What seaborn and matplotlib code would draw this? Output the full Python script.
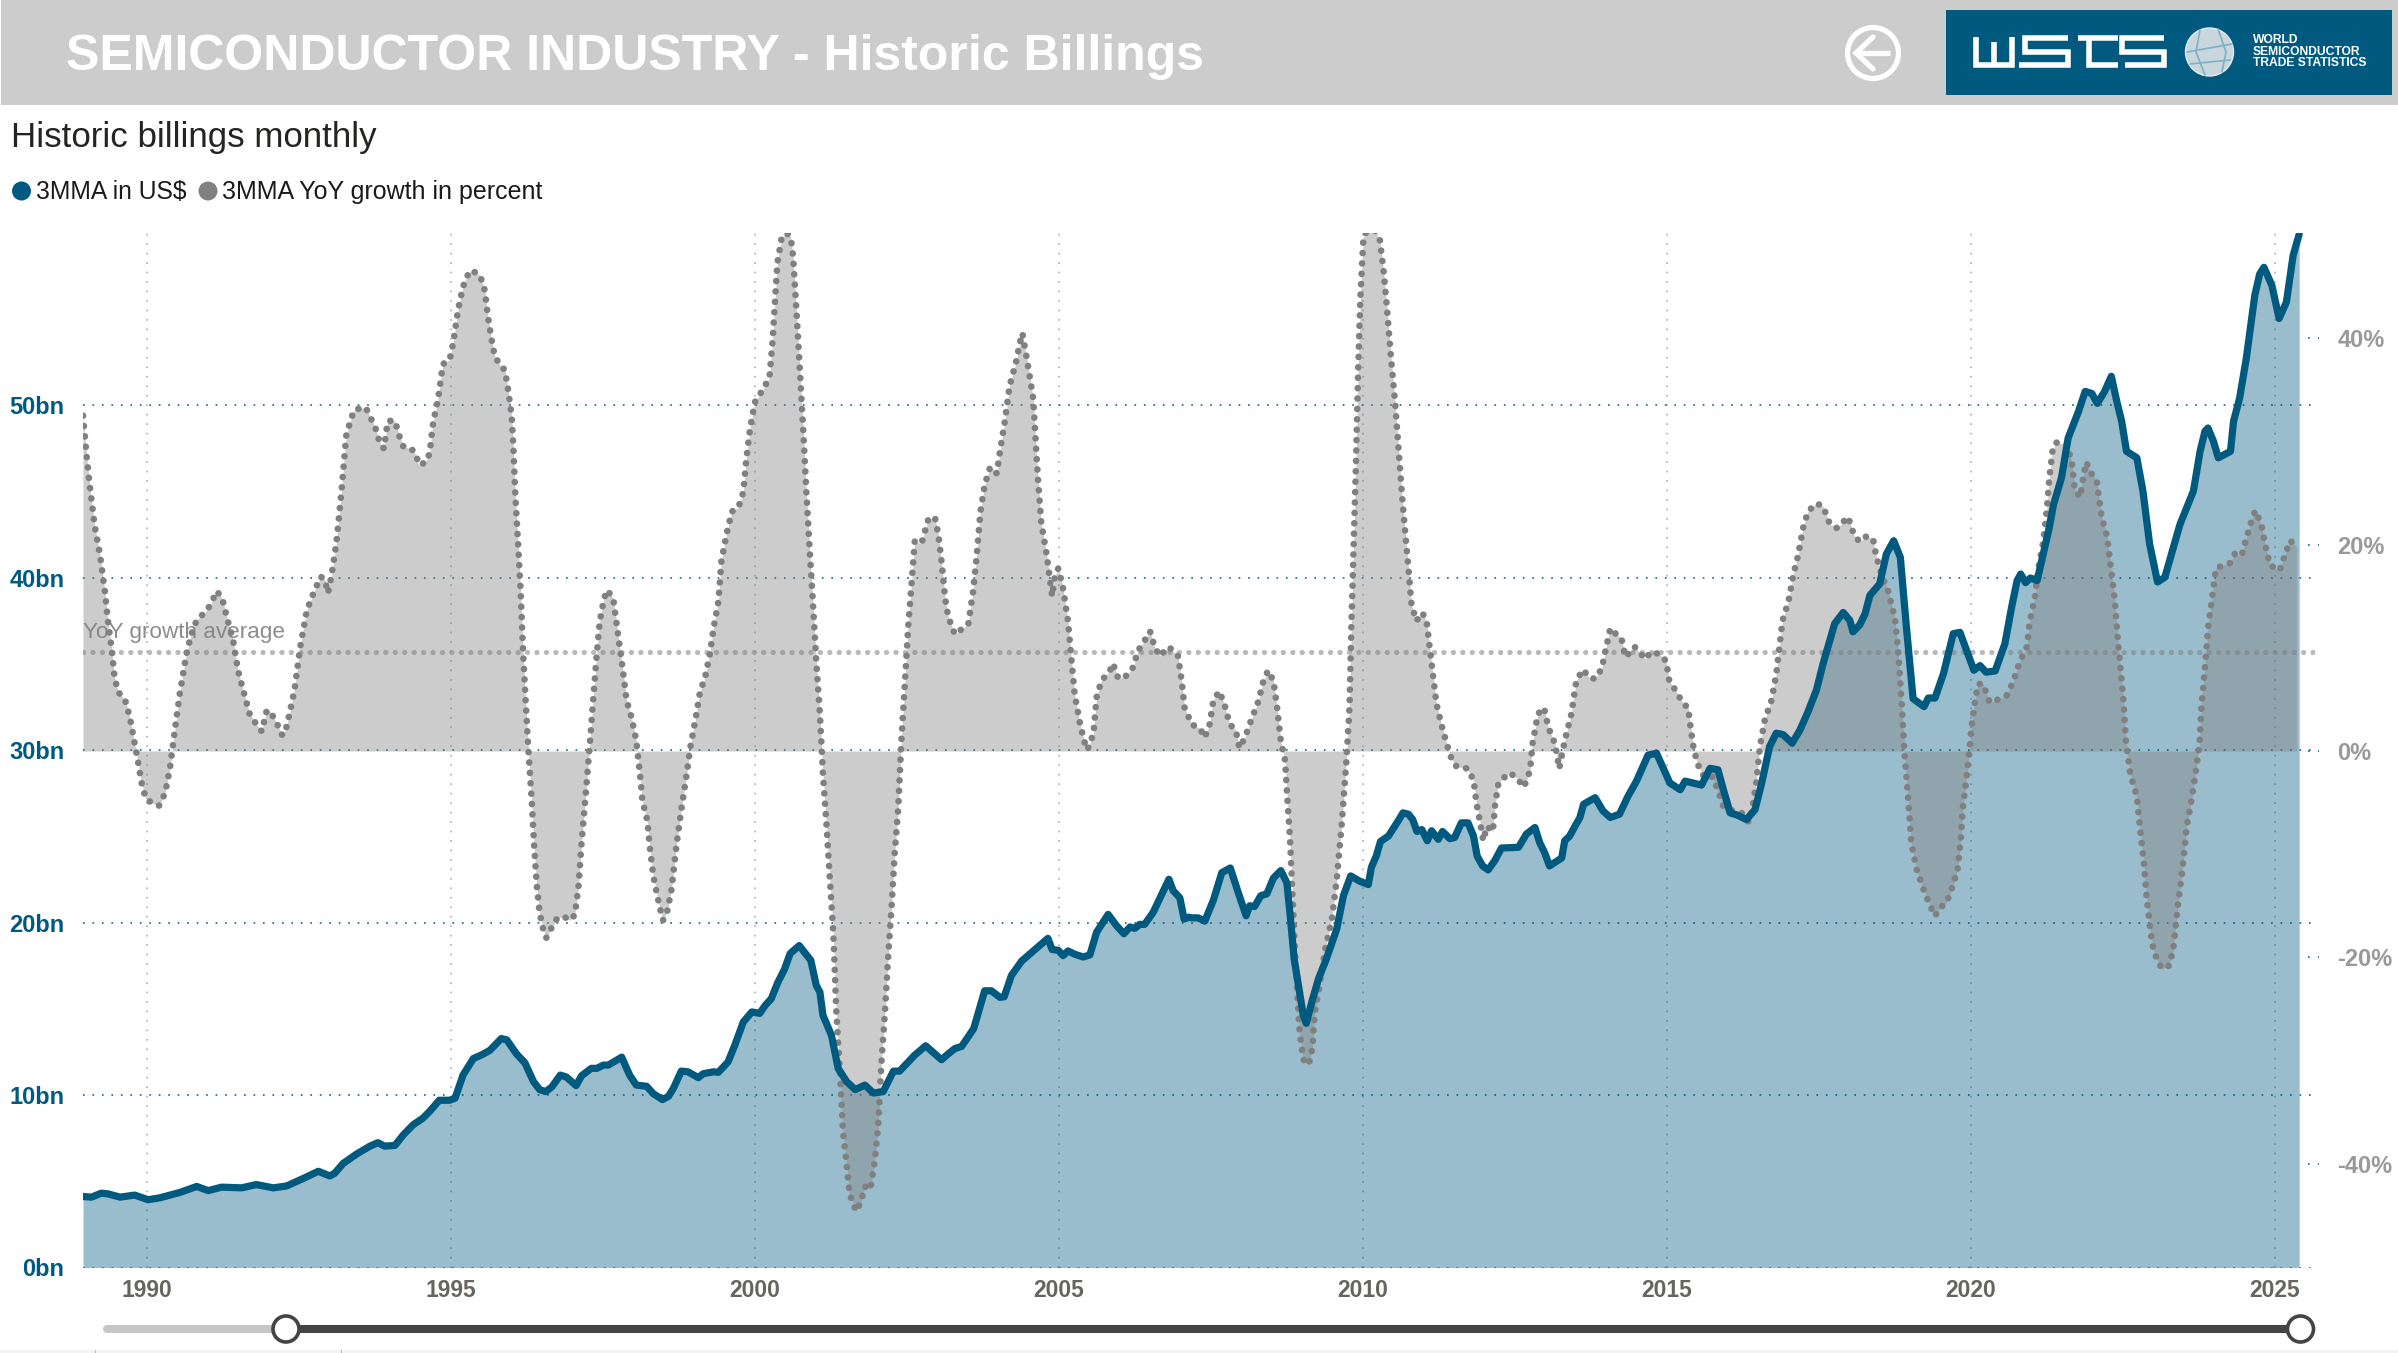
import matplotlib
matplotlib.use("Agg")
import matplotlib.pyplot as plt
from matplotlib.patches import Circle, Rectangle
import pandas as pd
import seaborn as sns

# values (US$ bn, 3 month moving average)
dates_usd = [
    1988.95, 1989.09, 1989.25, 1989.36, 1989.56, 1989.80, 1990.02, 1990.21, 1990.54, 1990.82,
    1991.01, 1991.23, 1991.56, 1991.80, 1992.08, 1992.30, 1992.57, 1992.82, 1993.01, 1993.09,
    1993.23, 1993.45, 1993.67, 1993.80, 1993.91, 1994.08, 1994.22, 1994.38, 1994.54, 1994.65,
    1994.81, 1994.98, 1995.07, 1995.20, 1995.37, 1995.50, 1995.64, 1995.83, 1995.92, 1996.08,
    1996.22, 1996.36, 1996.46, 1996.56, 1996.66, 1996.80, 1996.90, 1997.06, 1997.15, 1997.31,
    1997.40, 1997.51, 1997.59, 1997.81, 1997.94, 1998.05, 1998.22, 1998.33, 1998.48, 1998.58,
    1998.66, 1998.79, 1998.90, 1999.07, 1999.15, 1999.32, 1999.40, 1999.56, 1999.67, 1999.81,
    1999.95, 2000.08, 2000.17, 2000.27, 2000.38, 2000.49, 2000.58, 2000.73, 2000.92, 2001.01,
    2001.07, 2001.12, 2001.26, 2001.37, 2001.51, 2001.65, 2001.81, 2001.95, 2002.11, 2002.28,
    2002.38, 2002.63, 2002.81, 2003.07, 2003.18, 2003.29, 2003.40, 2003.60, 2003.78, 2003.89,
    2004.03, 2004.10, 2004.22, 2004.39, 2004.58, 2004.82, 2004.89, 2004.99, 2005.07, 2005.15,
    2005.26, 2005.40, 2005.51, 2005.62, 2005.81, 2005.95, 2006.07, 2006.17, 2006.25, 2006.33,
    2006.41, 2006.55, 2006.81, 2006.88, 2006.99, 2007.06, 2007.14, 2007.18, 2007.29, 2007.40,
    2007.54, 2007.68, 2007.82, 2007.95, 2008.08, 2008.14, 2008.22, 2008.32, 2008.42, 2008.53,
    2008.65, 2008.75, 2008.80, 2008.87, 2008.94, 2009.02, 2009.07, 2009.16, 2009.27, 2009.40,
    2009.57, 2009.68, 2009.80, 2009.95, 2010.09, 2010.14, 2010.22, 2010.29, 2010.42, 2010.58,
    2010.66, 2010.75, 2010.82, 2010.89, 2010.97, 2011.06, 2011.13, 2011.24, 2011.31, 2011.43,
    2011.51, 2011.62, 2011.73, 2011.82, 2011.88, 2011.97, 2012.06, 2012.17, 2012.28, 2012.56,
    2012.69, 2012.83, 2012.91, 2012.99, 2013.07, 2013.27, 2013.32, 2013.40, 2013.49, 2013.57,
    2013.63, 2013.82, 2013.95, 2014.07, 2014.22, 2014.36, 2014.50, 2014.69, 2014.83, 2015.05,
    2015.22, 2015.30, 2015.57, 2015.71, 2015.84, 2015.93, 2016.04, 2016.15, 2016.31, 2016.45,
    2016.56, 2016.69, 2016.80, 2016.91, 2017.06, 2017.19, 2017.32, 2017.46, 2017.57, 2017.76,
    2017.90, 2018.01, 2018.06, 2018.17, 2018.26, 2018.34, 2018.50, 2018.61, 2018.73, 2018.84,
    2018.94, 2019.05, 2019.23, 2019.30, 2019.41, 2019.55, 2019.71, 2019.82, 2020.05, 2020.15,
    2020.25, 2020.40, 2020.56, 2020.67, 2020.76, 2020.82, 2020.90, 2020.98, 2021.09, 2021.19,
    2021.29, 2021.36, 2021.49, 2021.60, 2021.77, 2021.88, 2021.99, 2022.08, 2022.20, 2022.31,
    2022.40, 2022.48, 2022.56, 2022.73, 2022.83, 2022.94, 2023.07, 2023.19, 2023.30, 2023.44,
    2023.66, 2023.77, 2023.85, 2023.90, 2023.99, 2024.07, 2024.27, 2024.32, 2024.42, 2024.53,
    2024.67, 2024.75, 2024.82, 2024.95, 2025.07, 2025.19, 2025.30, 2025.40,
]
usd_bn = [
    4.12, 4.08, 4.31, 4.27, 4.08, 4.20, 3.93, 4.04, 4.35, 4.70,
    4.46, 4.66, 4.62, 4.81, 4.62, 4.73, 5.16, 5.58, 5.31, 5.47,
    6.04, 6.58, 7.04, 7.24, 7.04, 7.08, 7.70, 8.28, 8.66, 9.05,
    9.70, 9.70, 9.82, 11.16, 12.12, 12.32, 12.59, 13.28, 13.20, 12.39,
    11.86, 10.78, 10.32, 10.20, 10.47, 11.16, 11.05, 10.55, 11.12, 11.55,
    11.55, 11.74, 11.74, 12.20, 11.16, 10.58, 10.51, 10.08, 9.74, 9.93,
    10.39, 11.39, 11.35, 11.01, 11.24, 11.35, 11.32, 11.93, 12.89, 14.24,
    14.82, 14.74, 15.20, 15.59, 16.55, 17.32, 18.21, 18.67, 17.82, 16.36,
    15.97, 14.63, 13.47, 11.55, 10.78, 10.32, 10.58, 10.12, 10.20, 11.39,
    11.39, 12.32, 12.86, 12.05, 12.39, 12.70, 12.82, 13.86, 16.05, 16.05,
    15.67, 15.70, 16.94, 17.78, 18.36, 19.09, 18.44, 18.40, 18.09, 18.36,
    18.17, 18.01, 18.13, 19.44, 20.48, 19.82, 19.36, 19.75, 19.67, 19.90,
    19.90, 20.59, 22.52, 21.86, 21.44, 20.21, 20.32, 20.28, 20.28, 20.09,
    21.29, 22.90, 23.17, 21.75, 20.40, 20.98, 20.94, 21.56, 21.67, 22.59,
    23.02, 22.32, 20.59, 17.90, 16.36, 14.63, 14.16, 15.40, 16.74, 17.90,
    19.63, 21.56, 22.71, 22.40, 22.21, 23.21, 23.86, 24.71, 25.02, 25.90,
    26.37, 26.29, 25.98, 25.29, 25.40, 24.75, 25.33, 24.83, 25.29, 24.87,
    24.94, 25.79, 25.79, 25.02, 23.86, 23.29, 23.06, 23.60, 24.33, 24.37,
    25.14, 25.52, 24.63, 24.06, 23.29, 23.75, 24.75, 25.02, 25.60, 26.10,
    26.87, 27.25, 26.48, 26.10, 26.29, 27.33, 28.21, 29.72, 29.83, 28.10,
    27.71, 28.21, 27.98, 28.95, 28.87, 27.71, 26.37, 26.25, 25.98, 26.56,
    28.10, 30.22, 30.99, 30.91, 30.41, 31.18, 32.22, 33.49, 35.03, 37.34,
    37.99, 37.53, 36.87, 37.26, 37.91, 38.99, 39.65, 41.38, 42.15, 41.19,
    37.14, 32.99, 32.53, 33.03, 33.03, 34.45, 36.76, 36.84, 34.64, 34.91,
    34.53, 34.60, 36.18, 38.30, 39.84, 40.22, 39.72, 39.99, 39.84, 41.38,
    42.92, 44.26, 45.80, 48.11, 49.65, 50.81, 50.69, 50.12, 50.81, 51.69,
    50.23, 49.08, 47.34, 46.96, 45.03, 41.96, 39.76, 40.03, 41.38, 43.11,
    45.03, 47.34, 48.50, 48.69, 47.92, 46.96, 47.34, 49.08, 50.42, 52.73,
    56.39, 57.62, 58.01, 56.97, 55.04, 56.00, 58.70, 59.93,
]

# 3MMA YoY growth in percent
dates_yoy = [
    1988.95, 1989.01, 1989.06, 1989.14, 1989.23, 1989.31, 1989.36, 1989.42, 1989.47, 1989.53,
    1989.64, 1989.72, 1989.80, 1989.86, 1989.91, 1989.98, 1990.10, 1990.20, 1990.30, 1990.38,
    1990.46, 1990.54, 1990.65, 1990.73, 1990.82, 1990.95, 1991.04, 1991.15, 1991.24, 1991.31,
    1991.42, 1991.50, 1991.58, 1991.69, 1991.80, 1991.89, 1991.97, 1992.02, 1992.10, 1992.17,
    1992.23, 1992.29, 1992.35, 1992.43, 1992.52, 1992.63, 1992.74, 1992.86, 1992.93, 1992.98,
    1993.04, 1993.12, 1993.20, 1993.28, 1993.37, 1993.42, 1993.60, 1993.67, 1993.75, 1993.83,
    1993.90, 1993.94, 1993.97, 1994.08, 1994.16, 1994.22, 1994.35, 1994.44, 1994.46, 1994.57,
    1994.65, 1994.71, 1994.79, 1994.87, 1994.98, 1995.04, 1995.12, 1995.20, 1995.29, 1995.34,
    1995.48, 1995.56, 1995.61, 1995.67, 1995.72, 1995.81, 1995.89, 1995.94, 1996.00, 1996.03,
    1996.06, 1996.11, 1996.15, 1996.19, 1996.23, 1996.28, 1996.33, 1996.37, 1996.41, 1996.46,
    1996.52, 1996.57, 1996.66, 1996.74, 1996.85, 1996.95, 1997.04, 1997.10, 1997.15, 1997.22,
    1997.29, 1997.34, 1997.40, 1997.45, 1997.52, 1997.57, 1997.67, 1997.75, 1997.83, 1997.89,
    1997.97, 1998.05, 1998.11, 1998.15, 1998.23, 1998.27, 1998.33, 1998.39, 1998.45, 1998.49,
    1998.56, 1998.63, 1998.71, 1998.79, 1998.88, 1998.94, 1999.03, 1999.10, 1999.18, 1999.26,
    1999.32, 1999.40, 1999.45, 1999.53, 1999.62, 1999.73, 1999.81, 1999.86, 1999.92, 2000.00,
    2000.14, 2000.24, 2000.29, 2000.33, 2000.37, 2000.44, 2000.52, 2000.59, 2000.63, 2000.69,
    2000.74, 2000.80, 2000.85, 2000.90, 2000.96, 2001.01, 2001.07, 2001.12, 2001.18, 2001.23,
    2001.29, 2001.34, 2001.40, 2001.45, 2001.51, 2001.56, 2001.62, 2001.66, 2001.74, 2001.81,
    2001.90, 2001.97, 2002.03, 2002.08, 2002.14, 2002.19, 2002.25, 2002.30, 2002.36, 2002.41,
    2002.47, 2002.52, 2002.58, 2002.63, 2002.74, 2002.85, 2002.96, 2003.02, 2003.07, 2003.13,
    2003.18, 2003.29, 2003.40, 2003.51, 2003.59, 2003.65, 2003.71, 2003.78, 2003.87, 2003.98,
    2004.03, 2004.11, 2004.19, 2004.30, 2004.36, 2004.40, 2004.48, 2004.58, 2004.62, 2004.66,
    2004.71, 2004.80, 2004.85, 2004.89, 2004.93, 2004.99, 2005.06, 2005.15, 2005.21, 2005.26,
    2005.35, 2005.43, 2005.47, 2005.57, 2005.62, 2005.70, 2005.84, 2005.89, 2005.98, 2006.11,
    2006.22, 2006.30, 2006.41, 2006.50, 2006.58, 2006.66, 2006.81, 2006.96, 2007.02, 2007.07,
    2007.15, 2007.18, 2007.32, 2007.40, 2007.48, 2007.54, 2007.64, 2007.73, 2007.81, 2007.91,
    2007.97, 2008.06, 2008.17, 2008.28, 2008.36, 2008.44, 2008.53, 2008.59, 2008.65, 2008.72,
    2008.76, 2008.80, 2008.84, 2008.88, 2008.92, 2008.96, 2009.02, 2009.11, 2009.17, 2009.21,
    2009.29, 2009.38, 2009.49, 2009.57, 2009.65, 2009.73, 2009.78, 2009.81, 2009.85, 2009.89,
    2009.92, 2009.96, 2010.01, 2010.14, 2010.28, 2010.34, 2010.39, 2010.46, 2010.53, 2010.58,
    2010.64, 2010.69, 2010.75, 2010.80, 2010.88, 2010.98, 2011.05, 2011.10, 2011.16, 2011.21,
    2011.29, 2011.38, 2011.46, 2011.54, 2011.72, 2011.82, 2011.87, 2011.93, 2011.98, 2012.04,
    2012.14, 2012.17, 2012.23, 2012.41, 2012.53, 2012.65, 2012.75, 2012.79, 2012.88, 2012.98,
    2013.05, 2013.16, 2013.23, 2013.32, 2013.43, 2013.51, 2013.62, 2013.73, 2013.82, 2013.93,
    2014.00, 2014.07, 2014.17, 2014.25, 2014.32, 2014.47, 2014.65, 2014.73, 2014.88, 2014.99,
    2015.04, 2015.13, 2015.27, 2015.35, 2015.39, 2015.43, 2015.50, 2015.62, 2015.75, 2015.84,
    2015.93, 2016.09, 2016.23, 2016.35, 2016.41, 2016.47, 2016.53, 2016.61, 2016.72, 2016.80,
    2016.85, 2016.90, 2017.00, 2017.08, 2017.16, 2017.24, 2017.32, 2017.46, 2017.57, 2017.68,
    2017.80, 2017.98, 2018.08, 2018.17, 2018.28, 2018.39, 2018.44, 2018.53, 2018.64, 2018.75,
    2018.80, 2018.86, 2018.91, 2018.97, 2019.02, 2019.11, 2019.22, 2019.33, 2019.41, 2019.49,
    2019.60, 2019.70, 2019.78, 2019.83, 2019.87, 2019.93, 2019.97, 2020.01, 2020.07, 2020.12,
    2020.20, 2020.31, 2020.45, 2020.59, 2020.70, 2020.80, 2020.92, 2020.97, 2021.05, 2021.11,
    2021.19, 2021.25, 2021.29, 2021.34, 2021.40, 2021.58, 2021.66, 2021.71, 2021.80, 2021.86,
    2021.90, 2021.97, 2022.07, 2022.15, 2022.24, 2022.31, 2022.37, 2022.41, 2022.45, 2022.51,
    2022.55, 2022.62, 2022.73, 2022.79, 2022.84, 2022.89, 2022.95, 2023.00, 2023.08, 2023.15,
    2023.26, 2023.33, 2023.41, 2023.48, 2023.55, 2023.61, 2023.68, 2023.76, 2023.79, 2023.85,
    2023.90, 2023.96, 2024.03, 2024.15, 2024.26, 2024.34, 2024.45, 2024.53, 2024.62, 2024.68,
    2024.78, 2024.84, 2024.92, 2025.08, 2025.17, 2025.25, 2025.36,
]
yoy_pct = [
    32.5, 28.6, 25.8, 21.9, 19.0, 15.5, 12.6, 10.0, 7.1, 5.7,
    5.0, 3.3, 0.7, -1.2, -3.0, -4.6, -5.1, -5.3, -4.1, -1.7,
    2.0, 5.5, 9.4, 11.3, 12.7, 13.4, 14.1, 15.5, 14.8, 13.1,
    10.7, 7.8, 6.0, 3.6, 2.6, 1.9, 3.9, 3.9, 3.1, 2.3,
    1.5, 2.2, 3.7, 6.0, 10.0, 13.6, 15.3, 16.9, 16.6, 15.3,
    17.1, 20.3, 25.1, 30.6, 32.4, 33.1, 33.3, 32.4, 31.5, 29.9,
    29.3, 31.1, 32.0, 32.0, 30.4, 29.5, 29.3, 28.6, 27.8, 27.9,
    28.8, 31.9, 34.1, 37.5, 37.9, 39.6, 42.8, 45.0, 46.3, 46.6,
    46.1, 44.6, 42.1, 39.9, 38.3, 37.4, 36.9, 35.1, 32.5, 29.3,
    24.8, 19.7, 15.2, 9.4, 4.9, -0.3, -4.8, -9.2, -12.8, -15.7,
    -17.3, -18.1, -17.1, -16.3, -16.0, -16.4, -15.9, -13.1, -8.9, -4.1,
    1.0, 4.9, 9.4, 12.6, 14.8, 15.6, 14.8, 11.3, 7.8, 4.9,
    3.3, 1.0, -2.2, -4.8, -6.7, -9.2, -12.1, -13.9, -15.5, -16.4,
    -15.5, -13.4, -9.2, -5.7, -2.2, 0.4, 3.3, 5.8, 7.1, 9.4,
    11.9, 14.5, 18.4, 20.9, 23.2, 23.6, 25.1, 28.3, 31.2, 33.8,
    35.1, 36.2, 39.6, 43.4, 47.3, 49.7, 50.2, 49.8, 47.9, 42.1,
    37.0, 30.6, 24.8, 19.7, 13.9, 8.7, 3.6, -2.2, -7.3, -12.1,
    -17.6, -25.3, -31.1, -36.9, -40.1, -43.0, -43.8, -44.6, -43.8, -42.2,
    -42.5, -39.8, -36.2, -30.4, -25.3, -20.2, -15.0, -9.9, -5.4, 1.0,
    6.8, 11.9, 16.4, 20.3, 20.1, 22.4, 22.7, 20.9, 18.4, 14.8,
    13.0, 11.3, 11.8, 12.3, 15.5, 19.0, 23.2, 25.8, 27.5, 26.9,
    29.0, 31.9, 35.4, 37.8, 39.6, 40.5, 37.8, 34.1, 29.9, 26.1,
    22.2, 19.0, 16.8, 15.0, 16.8, 17.7, 16.1, 12.6, 8.7, 5.5,
    2.6, 0.7, 0.1, 1.7, 5.2, 6.8, 7.8, 8.5, 7.0, 7.3,
    8.1, 9.7, 10.7, 11.6, 10.0, 9.2, 10.1, 9.2, 6.8, 4.1,
    3.1, 2.6, 2.2, 1.3, 2.6, 4.9, 5.8, 4.4, 2.6, 2.0,
    0.3, 1.3, 3.1, 4.8, 6.7, 7.8, 6.8, 4.2, 1.0, -0.9,
    -4.8, -8.3, -13.7, -18.9, -23.4, -27.2, -29.9, -30.4, -28.8, -25.3,
    -22.7, -19.2, -16.3, -12.5, -7.3, -0.9, 4.2, 11.9, 20.3, 28.6,
    36.4, 44.1, 49.8, 51.2, 49.5, 46.6, 43.4, 38.3, 33.8, 29.9,
    25.1, 21.6, 17.7, 14.2, 12.6, 13.4, 12.5, 10.0, 7.1, 4.6,
    2.6, 0.7, -0.8, -1.5, -1.7, -2.8, -5.1, -7.0, -8.7, -7.3,
    -7.8, -5.4, -3.1, -2.1, -2.6, -3.5, -1.9, 0.7, 3.6, 4.2,
    2.3, 0.7, -1.7, 1.0, 3.6, 6.8, 7.9, 7.1, 7.0, 8.0,
    10.0, 11.9, 11.3, 11.0, 9.1, 10.1, 8.9, 9.6, 9.4, 8.7,
    6.8, 6.0, 4.6, 4.2, 2.3, 0.6, -1.2, -2.6, -2.5, -3.8,
    -5.4, -5.8, -6.0, -6.9, -5.4, -3.1, 0.4, 3.0, 4.9, 7.5,
    10.0, 12.6, 14.5, 17.1, 19.0, 21.6, 23.2, 24.0, 23.7, 22.0,
    21.6, 22.7, 20.9, 20.3, 20.8, 20.6, 19.0, 17.1, 15.5, 12.9,
    10.0, 4.9, -0.3, -4.8, -8.9, -11.5, -13.4, -15.0, -16.0, -15.2,
    -14.7, -13.1, -11.5, -8.9, -5.4, -2.5, -0.3, 2.3, 4.9, 6.5,
    6.5, 4.7, 5.0, 5.4, 6.8, 8.6, 10.1, 12.6, 14.8, 17.7,
    20.3, 23.5, 26.4, 29.0, 29.9, 29.7, 28.0, 25.3, 24.6, 27.0,
    28.0, 27.0, 26.2, 22.7, 20.8, 17.4, 14.5, 11.3, 8.7, 4.9,
    1.0, -2.2, -4.4, -8.0, -10.5, -14.1, -17.3, -19.2, -20.5, -21.1,
    -20.8, -19.2, -14.7, -11.5, -7.3, -5.4, -2.8, 0.7, 4.2, 8.1,
    11.9, 14.5, 17.7, 18.0, 18.2, 19.1, 18.9, 20.6, 22.4, 23.3,
    21.9, 20.0, 18.0, 17.5, 19.1, 20.4, 19.8,
]
yoy_average = 9.6

year_ticks = [1990, 1995, 2000, 2005, 2010, 2015, 2020, 2025]
usd_ticks = [0, 10, 20, 30, 40, 50]
usd_labels = ["0bn", "10bn", "20bn", "30bn", "40bn", "50bn"]
pct_ticks = [-40, -20, 0, 20, 40]
pct_labels = ["-40%", "-20%", "0%", "20%", "40%"]

df_usd = pd.DataFrame({"date": dates_usd, "usd": usd_bn})
df_yoy = pd.DataFrame({"date": dates_yoy, "yoy": yoy_pct})

BLUE = "#005a80"
GREY = "#808080"
W, H = 2398, 1353

sns.set_theme(style="white")
plt.rcParams["font.family"] = ["Liberation Sans", "DejaVu Sans"]

fig = plt.figure(figsize=(W / 100, H / 100), dpi=100, facecolor="white")
rect = [83 / W, 1 - 1267.5 / H, (2315 - 83) / W, (1267.5 - 233) / H]

# left axis: billings area and grid
ax = fig.add_axes(rect, zorder=1)
ax.fill_between(df_usd["date"], df_usd["usd"], 0, color=BLUE, alpha=0.4, linewidth=0)
ax.set_xlim(1988.95, 2025.66)
ax.set_ylim(0, 60)
ax.set_xticks(year_ticks)
ax.set_xticklabels(year_ticks, fontsize=16.5, fontweight="bold", color="#686460")
ax.set_yticks(usd_ticks)
ax.set_yticklabels(usd_labels, fontsize=17, fontweight="bold", color=BLUE)
ax.tick_params(axis="x", length=0, pad=8.5)
ax.tick_params(axis="y", length=0, pad=13.5)
ax.yaxis.grid(True, linestyle=(0, (1.1, 5.1)), linewidth=1.1, color=BLUE)
ax.xaxis.grid(True, linestyle=(0, (1.1, 5.1)), linewidth=1.1, color="#a8a8a8")
ax.set_axisbelow(True)
sns.despine(ax=ax, left=True, bottom=True)

# right axis: growth, grey area and dots
ax2 = ax.twinx()
ax2.set_zorder(2)
ax2.fill_between(df_yoy["date"], df_yoy["yoy"], 0, color=GREY, alpha=0.4, linewidth=0)
sns.lineplot(data=df_yoy, x="date", y="yoy", ax=ax2, color=GREY, linewidth=4.8,
             linestyle=(0, (0.01, 1.55)), dash_capstyle="round", estimator=None, sort=False)
ax2.axhline(yoy_average, color=GREY, alpha=0.55, linewidth=3.8,
            linestyle=(0, (0.01, 1.78)), dash_capstyle="round")
ax2.text(1988.95, yoy_average + 1.9, "YoY growth average", fontsize=16.2, color=GREY,
         alpha=0.9, ha="left", va="center")
ax2.set_ylim(-50.05, 50.2)
ax2.set_yticks(pct_ticks)
ax2.set_yticklabels(pct_labels, fontsize=17, fontweight="bold", color="#999999")
ax2.tick_params(axis="y", length=0, pad=16)
ax2.set_xlabel("")
ax2.set_ylabel("")
for t in pct_ticks:
    ax2.plot([0.9969, 1.0018], [t, t], transform=ax2.get_yaxis_transform(), clip_on=False,
             color=BLUE, linewidth=1.1, linestyle=(0, (1.1, 5.4)))
sns.despine(ax=ax2, left=True, bottom=True, right=True)

# billings line goes on top of everything
ax3 = ax.twinx()
ax3.set_zorder(3)
sns.lineplot(data=df_usd, x="date", y="usd", ax=ax3, color=BLUE, linewidth=5.2,
             estimator=None, sort=False, solid_joinstyle="round")
ax3.set_ylim(0, 60)
ax3.set_yticks([])
ax3.set_xlabel("")
ax3.set_ylabel("")
ax.set_xlabel("")
sns.despine(ax=ax3, left=True, bottom=True, right=True)

# page furniture in pixel coordinates
ui = fig.add_axes([0, 0, 1, 1], zorder=4)
ui.set_xlim(0, W)
ui.set_ylim(H, 0)
ui.axis("off")
ui.patch.set_alpha(0)

ui.add_patch(Rectangle((1, 0), W - 1, 105, color="#cccccc", linewidth=0))
ui.text(66, 57, "SEMICONDUCTOR INDUSTRY - Historic Billings", fontsize=36,
        fontweight="bold", color="white", ha="left", va="center")
ui.text(11, 137, "Historic billings monthly", fontsize=25.1, color="#252423", ha="left", va="center")

# legend
ui.add_patch(Circle((21.5, 191), 9.5, color=BLUE, linewidth=0))
ui.text(35.5, 192, "3MMA in US$", fontsize=17.7, color="#1a1a1a", ha="left", va="center")
ui.add_patch(Circle((208, 191), 9.5, color=GREY, linewidth=0))
ui.text(222, 192, "3MMA YoY growth in percent", fontsize=18, color="#1a1a1a", ha="left", va="center")

# back arrow
ui.add_patch(Circle((1873, 53), 25.5, facecolor="none", edgecolor="white", linewidth=3.8))
ui.plot([1890, 1856], [53, 53], color="white", linewidth=3.8, solid_capstyle="butt")
ui.plot([1873, 1856, 1873], [37, 53, 69], color="white", linewidth=3.8, solid_joinstyle="miter")

# WSTS logo
ui.add_patch(Rectangle((1946, 10), 446, 85, color=BLUE, linewidth=0))
logo_paths = [
    ([1976, 1976, 2012, 2012], [37, 65, 65, 37]),
    ([1994, 1994], [42, 65]),
    ([2068, 2025, 2025, 2068, 2068, 2019], [38, 38, 52, 52, 65, 65]),
    ([2078, 2118], [38, 38]),
    ([2089, 2089, 2118], [38, 65, 65]),
    ([2164, 2122, 2122, 2164, 2164, 2125], [38, 38, 52, 52, 65, 65]),
]
for xs, ys in logo_paths:
    ui.plot(xs, ys, color="white", linewidth=4, solid_joinstyle="miter", solid_capstyle="butt")
ui.add_patch(Circle((2209.5, 52), 24, facecolor="#c8d6de", edgecolor="#e6edf0", linewidth=1))
ui.plot([2187, 2232], [52, 44], color="#7fb0c6", linewidth=1.2)
ui.plot([2190, 2230], [64, 60], color="#7fb0c6", linewidth=1.2)
ui.plot([2200, 2196, 2205], [30, 52, 75], color="#7fb0c6", linewidth=1.2)
ui.plot([2218, 2226, 2222], [29, 52, 72], color="#7fb0c6", linewidth=1.2)
for y, line in zip([40, 52, 63], ["WORLD", "SEMICONDUCTOR", "TRADE STATISTICS"]):
    ui.text(2253, y, line, fontsize=8.7, color="white", ha="left", va="center", fontweight="bold")

# range slider
ui.plot([107, 286], [1329, 1329], color="#c6c6c6", linewidth=5.8, solid_capstyle="round")
ui.plot([286, 2300], [1329, 1329], color="#444444", linewidth=5.8, solid_capstyle="butt")
for sx in [286, 2300.5]:
    ui.add_patch(Circle((sx, 1329), 13, facecolor="white", edgecolor="#444444", linewidth=2.6, zorder=5))

# strip at the bottom of the page
ui.add_patch(Rectangle((0, 1350), W, 3, color="#f3f3f3", linewidth=0))
ui.plot([95, 95], [1350, 1353], color="#bbbbbb", linewidth=0.8)
ui.plot([341, 341], [1350, 1353], color="#bbbbbb", linewidth=0.8)

fig.savefig("out.png", dpi=100, facecolor="white")
plt.close(fig)
